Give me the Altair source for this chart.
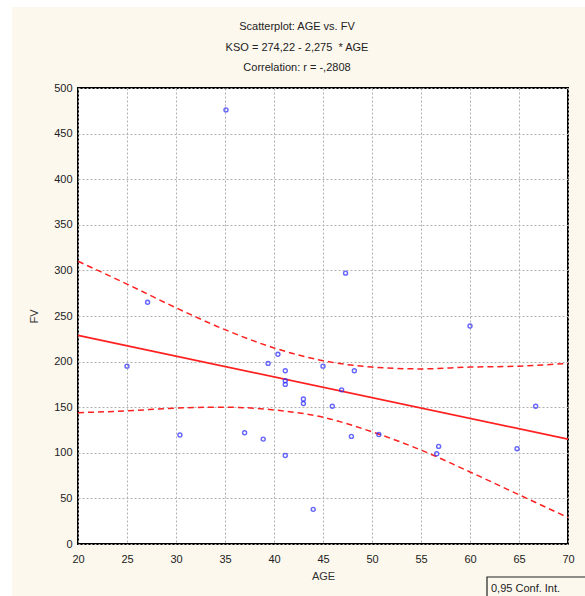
import altair as alt
import pandas as pd

# Scatter data
age = [25, 27.1, 30.4, 35.1, 37.0, 38.9, 39.4, 40.4, 41.15, 41.15, 41.15, 41.15,
       43.0, 43.0, 44.0, 45.0, 45.95, 46.9, 47.3, 47.9, 48.2, 50.7, 56.6, 56.8,
       60.0, 64.8, 66.7]
fv = [195, 265, 119.5, 476, 122, 115, 198, 208, 190, 179, 175, 97,
      159, 154, 38, 195, 151, 169, 297, 118, 190, 120, 99, 107,
      239, 104.5, 151]

# Regression line  KSO = 274,22 - 2,275 * AGE
fit_age = [20, 70]
fit_fv = [228.7, 115.0]

# 0,95 confidence band
band_age = [20, 25, 30, 35, 40, 45, 50, 55, 60, 65, 70]
band_upper = [310, 285, 259, 235, 215, 201, 194, 192, 194, 195, 198]
band_lower = [144, 146, 149, 150, 147, 139, 123, 103, 79, 54, 29]

x_ticks = [20, 25, 30, 35, 40, 45, 50, 55, 60, 65, 70]
y_ticks = [0, 50, 100, 150, 200, 250, 300, 350, 400, 450, 500]

title_lines = ["Scatterplot: AGE vs. FV", "KSO = 274,22 - 2,275\u00a0\u00a0* AGE", "Correlation: r = -,2808"]
legend_text = "0,95 Conf. Int."

FONT = "Liberation Sans"
CREAM = "#fdf8ee"

pts = pd.DataFrame({"AGE": age, "FV": fv})
fit = pd.DataFrame({"AGE": fit_age, "FV": fit_fv})
band = pd.concat([
    pd.DataFrame({"AGE": band_age, "FV": band_upper, "side": "upper"}),
    pd.DataFrame({"AGE": band_age, "FV": band_lower, "side": "lower"}),
])

xs = alt.Scale(domain=[20, 70], nice=False, zero=False)
ys = alt.Scale(domain=[0, 500], nice=False)
xax = alt.Axis(values=x_ticks, title="AGE", grid=True, domain=False, ticks=False,
               labelPadding=9, titlePadding=6, labelFlush=False, labelOverlap=False)
yax = alt.Axis(values=y_ticks, title="FV", grid=True, domain=False, ticks=False,
               labelPadding=6, titlePadding=14, labelFlush=False, labelOverlap=False)

one = pd.DataFrame({"k": [0]})

strip_left = alt.Chart(one).mark_rect(color="white").encode(
    x=alt.value(-78), x2=alt.value(-66), y=alt.value(-88), y2=alt.value(508))
strip_top = alt.Chart(one).mark_rect(color="white").encode(
    x=alt.value(-78), x2=alt.value(507), y=alt.value(-88), y2=alt.value(-81))

def title_line(i, ypix):
    return alt.Chart(pd.DataFrame({"t": [title_lines[i]]})).mark_text(
        font=FONT, fontSize=11, align="center", baseline="middle", color="#222").encode(
        x=alt.value(219), y=alt.value(ypix), text="t:N")

t1 = title_line(0, -61)
t2 = title_line(1, -40)
t3 = title_line(2, -20)

lines_band = alt.Chart(band).mark_line(color="#ff2020", strokeWidth=1.5,
                                       strokeDash=[6, 4], interpolate="monotone").encode(
    x=alt.X("AGE:Q", scale=xs, axis=xax),
    y=alt.Y("FV:Q", scale=ys, axis=yax),
    detail="side:N")

line_fit = alt.Chart(fit).mark_line(color="#ff2020", strokeWidth=1.8).encode(
    x=alt.X("AGE:Q", scale=xs), y=alt.Y("FV:Q", scale=ys))

points = alt.Chart(pts).mark_point(shape="circle", size=16, filled=False,
                                   color="#2424ff", strokeWidth=1.4).encode(
    x=alt.X("AGE:Q", scale=xs), y=alt.Y("FV:Q", scale=ys))

legend_box = alt.Chart(one).mark_rect(fill=CREAM, stroke="#222", strokeWidth=1.2).encode(
    x=alt.value(409), x2=alt.value(520), y=alt.value(489), y2=alt.value(520))
legend_lbl = alt.Chart(pd.DataFrame({"t": [legend_text]})).mark_text(
    font=FONT, fontSize=11, align="left", baseline="alphabetic", color="#222").encode(
    x=alt.value(413), y=alt.value(504), text="t:N")

chart = alt.layer(strip_left, strip_top, t1, t2, t3, lines_band, line_fit, points,
                  legend_box, legend_lbl).properties(
    width=490, height=456,
    background=CREAM,
    padding={"left": 78, "top": 88, "right": 17, "bottom": 52},
    autosize=alt.AutoSizeParams(type="none"),
).configure_view(
    fill="white", stroke="black", strokeWidth=2
).configure_axis(
    labelFont=FONT, labelFontSize=11, labelColor="#222",
    titleFont=FONT, titleFontSize=11, titleFontWeight="normal", titleColor="#333",
    gridColor="#b0b0b0", gridDash=[2, 2], gridWidth=1,
)

chart.save("out.html", embed_options={"renderer": "svg", "actions": False})
